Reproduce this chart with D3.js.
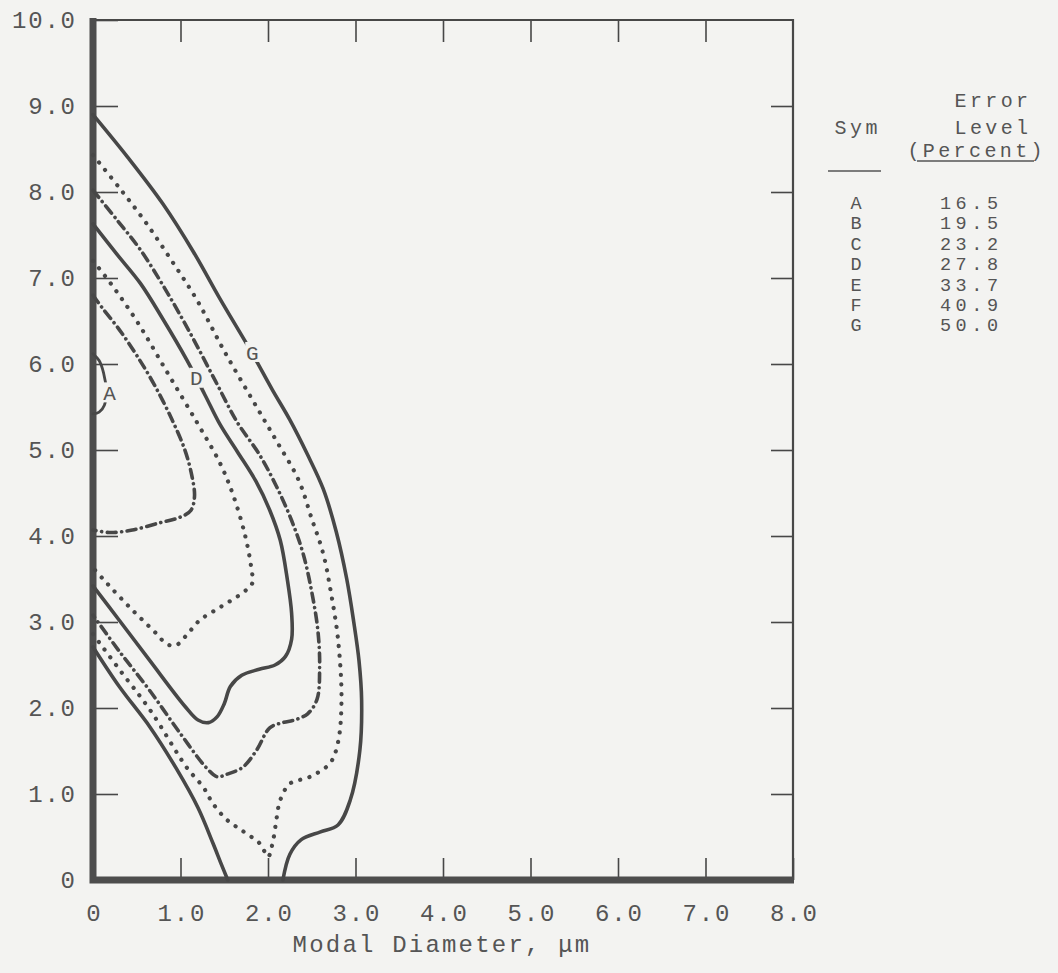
<!DOCTYPE html>
<html>
<head>
<meta charset="utf-8">
<script src="https://cdn.jsdelivr.net/npm/d3@7"></script>
<style>
  html, body { margin: 0; padding: 0; background: #f3f3f1; }
  svg { display: block; }
  text { font-family: "Liberation Mono", "DejaVu Sans Mono", monospace; fill: #555; }
</style>
</head>
<body>
<svg id="chart" width="1058" height="973"></svg>
<script>
// MARK: Data.

const xTicks = [0, 1, 2, 3, 4, 5, 6, 7, 8]
const yTicks = [0, 1, 2, 3, 4, 5, 6, 7, 8, 9, 10]

const legendSyms   = ['A', 'B', 'C', 'D', 'E', 'F', 'G']
const legendLevels = ['16.5', '19.5', '23.2', '27.8', '33.7', '40.9', '50.0']

// contours: [modal diameter, y]
const contourA = [[0, 6.12], [0.07, 6.04], [0.12, 5.9], [0.15, 5.7], [0.13, 5.52], [0.07, 5.44], [0, 5.42]]

const contourB = [[0, 6.8], [0.1, 6.66], [0.3, 6.4], [0.5, 6.1], [0.7, 5.76], [0.9, 5.36], [1.05, 5.0],
  [1.13, 4.7], [1.16, 4.46], [1.12, 4.3], [1.0, 4.22], [0.75, 4.15], [0.45, 4.07], [0.2, 4.04], [0, 4.07]]

const contourC = [[0, 7.2], [0.2, 6.94], [0.5, 6.5], [0.85, 5.9], [1.2, 5.3], [1.45, 4.85], [1.6, 4.48],
  [1.74, 4.0], [1.81, 3.62], [1.82, 3.45], [1.71, 3.34], [1.45, 3.17], [1.22, 3.02], [1.08, 2.86],
  [0.95, 2.73], [0.85, 2.74], [0.7, 2.89], [0.42, 3.17], [0.16, 3.45], [0, 3.63]]

const contourD = [[0, 7.63], [0.27, 7.28], [0.54, 6.94], [0.8, 6.52], [1.07, 6.05], [1.28, 5.64],
  [1.45, 5.3], [1.65, 4.98], [1.86, 4.64], [2.02, 4.3], [2.14, 3.95], [2.22, 3.5], [2.27, 3.1],
  [2.27, 2.8], [2.2, 2.6], [2.08, 2.5], [1.9, 2.45], [1.7, 2.38], [1.57, 2.25], [1.5, 2.05],
  [1.42, 1.9], [1.32, 1.83], [1.2, 1.86], [1.05, 2.02], [0.65, 2.55], [0.3, 3.02], [0, 3.42]]

const contourE = [[0, 8.02], [0.27, 7.68], [0.54, 7.33], [0.82, 6.88], [1.11, 6.36], [1.4, 5.8],
  [1.65, 5.32], [1.9, 4.95], [2.1, 4.57], [2.27, 4.18], [2.4, 3.8], [2.5, 3.35], [2.57, 2.9],
  [2.59, 2.48], [2.56, 2.1], [2.45, 1.93], [2.3, 1.86], [2.17, 1.83], [2.02, 1.77], [1.87, 1.51],
  [1.71, 1.31], [1.53, 1.23], [1.42, 1.2], [1.3, 1.3], [1.0, 1.7], [0.65, 2.2], [0.3, 2.66], [0, 3.08]]

const contourF = [[0, 8.43], [0.3, 8.05], [0.6, 7.65], [0.9, 7.2], [1.19, 6.74], [1.5, 6.15],
  [1.87, 5.5], [2.1, 5.1], [2.35, 4.65], [2.5, 4.2], [2.63, 3.8], [2.72, 3.34], [2.8, 2.8],
  [2.84, 2.1], [2.8, 1.6], [2.71, 1.36], [2.48, 1.2], [2.25, 1.12], [2.14, 0.93], [2.1, 0.73],
  [2.06, 0.47], [2.0, 0.27], [1.91, 0.42], [1.71, 0.57], [1.53, 0.7], [1.37, 0.89], [1.26, 1.08],
  [1.07, 1.31], [0.65, 1.98], [0.3, 2.45], [0, 2.86]]

const contourGUpper = [[0, 8.9], [0.4, 8.4], [0.8, 7.86], [1.15, 7.3], [1.45, 6.76], [1.81, 6.14],
  [2.05, 5.7], [2.25, 5.35], [2.45, 4.95], [2.63, 4.55], [2.78, 4.05], [2.9, 3.5], [2.98, 3.0],
  [3.04, 2.55], [3.07, 2.09], [3.05, 1.51], [2.94, 0.93], [2.8, 0.64], [2.6, 0.56], [2.38, 0.47],
  [2.25, 0.3], [2.17, 0]]
const contourGLower = [[0, 2.71], [0.3, 2.25], [0.65, 1.78], [0.95, 1.3], [1.2, 0.84], [1.37, 0.43],
  [1.46, 0.2], [1.54, 0]]

// MARK: Layout.

const svg = d3.select('#chart')
const plot = { left: 93, right: 793, top: 20, bottom: 880 }
const ink  = '#474747'
const TICK_FONT = 24
const TICK_LS   = 1.8

const x = d3.scaleLinear().domain([0, 8]).range([plot.left, plot.right])
const y = d3.scaleLinear().domain([0, 10]).range([plot.bottom, plot.top])

// Axes: ticks point inward, labels outside.
const fmt = (d) => d === 0 ? '0' : d3.format('.1f')(d)

const xAxis = svg.append('g')
  .attr('transform', `translate(0, ${plot.bottom})`)
  .call(d3.axisBottom(x).tickValues(xTicks).tickFormat(fmt)
    .tickSizeInner(-22).tickSizeOuter(0).tickPadding(33))
const yAxis = svg.append('g')
  .attr('transform', `translate(${plot.left}, 0)`)
  .call(d3.axisLeft(y).tickValues(yTicks).tickFormat(fmt)
    .tickSizeInner(-25).tickSizeOuter(0).tickPadding(18 - TICK_LS))
const yAxisRight = svg.append('g')
  .attr('transform', `translate(${plot.right}, 0)`)
  .call(d3.axisRight(y).tickValues(yTicks.slice(1, -1)).tickFormat('')
    .tickSizeInner(-22).tickSizeOuter(0))
const xAxisTop = svg.append('g')
  .attr('transform', `translate(0, ${plot.top})`)
  .call(d3.axisTop(x).tickValues(xTicks.slice(1, -1)).tickFormat('')
    .tickSizeInner(-22).tickSizeOuter(0))

for (const g of [xAxis, yAxis, yAxisRight, xAxisTop]) {
  g.select('.domain').remove()
  g.selectAll('line').attr('stroke', ink).attr('stroke-width', 1.6)
  g.selectAll('text')
    .attr('font-family', '"Liberation Mono", monospace')
    .attr('font-size', TICK_FONT)
    .attr('letter-spacing', TICK_LS)
    .attr('fill', '#555')
}
xAxis.selectAll('text').attr('dy', '0.35em').attr('dx', TICK_LS / 2)

// Frame: heavy left and bottom, light top and right.
svg.append('path')
  .attr('d', `M${plot.left},${plot.top}H${plot.right}V${plot.bottom}`)
  .attr('fill', 'none').attr('stroke', ink).attr('stroke-width', 2.2)
svg.append('path')
  .attr('d', `M${plot.left},${plot.top - 2}V${plot.bottom}H${plot.right + 1}`)
  .attr('fill', 'none').attr('stroke', '#4d4d4d').attr('stroke-width', 7)

// Contours.
const line = d3.line()
  .x((d) => x(d[0]))
  .y((d) => y(d[1]))
  .curve(d3.curveCatmullRom.alpha(0.5))

const styles = {
  solid  : { width: 3.6, dash: null },
  thin   : { width: 2.8, dash: null },
  dotted : { width: 4.2, dash: '0.1 9.5' },
  dashdot: { width: 3.6, dash: '9 5.5 0.1 5.5' },
}

const contours = [
  { pts: contourA,      style: 'thin' },
  { pts: contourB,      style: 'dashdot' },
  { pts: contourC,      style: 'dotted' },
  { pts: contourD,      style: 'solid' },
  { pts: contourE,      style: 'dashdot' },
  { pts: contourF,      style: 'dotted' },
  { pts: contourGUpper, style: 'solid' },
  { pts: contourGLower, style: 'solid' },
]

svg.append('g').selectAll('path')
  .data(contours).enter()
  .append('path')
  .attr('d', (c) => line(c.pts))
  .attr('fill', 'none')
  .attr('stroke', ink)
  .attr('stroke-width', (c) => styles[c.style].width)
  .attr('stroke-dasharray', (c) => styles[c.style].dash)
  .attr('stroke-linecap', 'round')
  .attr('stroke-linejoin', 'round')

// Curve labels, with a small gap cut into the line.
const curveLabels = [
  { text: 'A', at: [0.19, 5.67] },
  { text: 'D', at: [1.18, 5.84] },
  { text: 'G', at: [1.82, 6.14] },
]
const labelG = svg.append('g').selectAll('g')
  .data(curveLabels).enter()
  .append('g')
  .attr('transform', (d) => `translate(${x(d.at[0])}, ${y(d.at[1])})`)
labelG.append('rect')
  .attr('x', -7).attr('y', -10).attr('width', 14).attr('height', 20)
  .attr('fill', '#f3f3f1')
labelG.append('text')
  .attr('text-anchor', 'middle')
  .attr('dy', '0.36em')
  .attr('font-family', '"Liberation Serif", serif')
  .attr('font-size', 21)
  .attr('fill', '#555')
  .text((d) => d.text)

// Legend table.
const LEG_LS = 3.4
const legend = svg.append('g').attr('font-size', 20).attr('letter-spacing', LEG_LS)
const symX = 856 + LEG_LS / 2
const lvlX = 975 + LEG_LS / 2
legend.append('text').attr('x', 993).attr('y', 107).attr('text-anchor', 'middle').text('Error')
legend.append('text').attr('x', symX).attr('y', 134).attr('text-anchor', 'middle').text('Sym')
legend.append('text').attr('x', 993).attr('y', 134).attr('text-anchor', 'middle').text('Level')
legend.append('text').attr('x', lvlX).attr('y', 157).attr('text-anchor', 'middle').text('(Percent)')
legend.append('line')
  .attr('x1', 828).attr('x2', 881).attr('y1', 171).attr('y2', 171)
  .attr('stroke', '#555').attr('stroke-width', 1.6)
legend.append('line')
  .attr('x1', 917).attr('x2', 1034).attr('y1', 161).attr('y2', 161)
  .attr('stroke', '#555').attr('stroke-width', 1.6)

const rowY = (i) => 209 + i * 20.4
const rows = legend.append('g').attr('font-size', 18.5).attr('letter-spacing', 4.6)
rows.selectAll('text.sym')
  .data(legendSyms).enter()
  .append('text').attr('class', 'sym')
  .attr('x', 856 + 2.3).attr('y', (d, i) => rowY(i))
  .attr('text-anchor', 'middle')
  .text((d) => d)
rows.selectAll('text.lvl')
  .data(legendLevels).enter()
  .append('text').attr('class', 'lvl')
  .attr('x', 971.3).attr('y', (d, i) => rowY(i))
  .attr('text-anchor', 'middle')
  .text((d) => d)

// Axis title.
svg.append('text')
  .attr('x', 442).attr('y', 952)
  .attr('text-anchor', 'middle')
  .attr('font-size', 24)
  .attr('letter-spacing', 2.2)
  .text('Modal Diameter, \u03bcm')
</script>
</body>
</html>
